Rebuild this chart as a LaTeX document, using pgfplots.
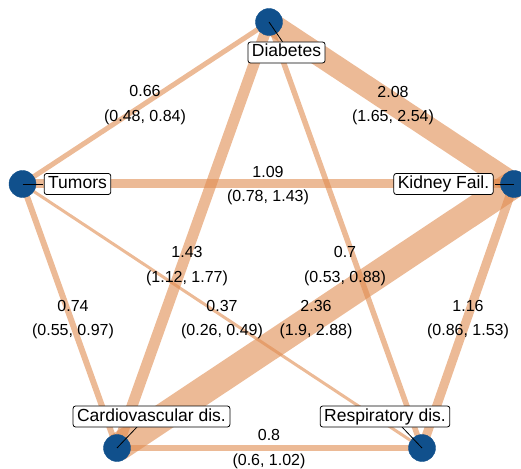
\documentclass[border=0pt]{standalone}
\usepackage{pgfplots}
\pgfplotsset{compat=1.18}
\usepackage{fontspec}
\setmainfont{Liberation Sans}
\definecolor{edgec}{RGB}{224,140,80}
\definecolor{nodeblue}{RGB}{16,80,140}
\tikzset{
  elabel/.style={align=center, font=\fontsize{16}{24.5}\selectfont, yshift=-2.5pt},
  nlabel/.style={draw=black, line width=0.8pt, fill=white, rounded corners=2.5pt,
    inner xsep=4pt, inner ysep=2pt, text height=13pt, text depth=4pt,
    font=\fontsize{17.5}{21}\selectfont},
}
\begin{document}
\begin{tikzpicture}
\begin{axis}[
  width=521pt, height=468pt, scale only axis,
  xmin=0, xmax=521, ymin=0, ymax=468,
  hide axis, clip=true, clip marker paths=true,
  every axis plot/.append style={line cap=butt},
]
% edges: Diabetes (269,446), Tumors (22.5,284), Kidney (514,284), Cardio (117,20), Resp (422,20)
\addplot[edgec, opacity=0.6, line width=5pt] coordinates {(269,446) (22.5,284)};    % 0.66
\addplot[edgec, opacity=0.6, line width=22pt] coordinates {(269,446) (514,284)};    % 2.08
\addplot[edgec, opacity=0.6, line width=9pt] coordinates {(22.5,284) (514,284)};    % 1.09
\addplot[edgec, opacity=0.6, line width=11pt] coordinates {(269,446) (117,20)};     % 1.43
\addplot[edgec, opacity=0.6, line width=5.5pt] coordinates {(269,446) (422,20)};    % 0.7
\addplot[edgec, opacity=0.6, line width=6pt] coordinates {(22.5,284) (117,20)};     % 0.74
\addplot[edgec, opacity=0.6, line width=3pt] coordinates {(22.5,284) (422,20)};     % 0.37
\addplot[edgec, opacity=0.6, line width=28pt] coordinates {(117,20) (514,284)};     % 2.36
\addplot[edgec, opacity=0.6, line width=9pt] coordinates {(514,284) (422,20)};      % 1.16
\addplot[edgec, opacity=0.6, line width=6pt] coordinates {(117,20) (422,20)};       % 0.8
% nodes
\addplot[only marks, mark=*, mark size=13.5pt, color=nodeblue] coordinates {
  (269,446) (22.5,284) (514,284) (117,20) (422,20)};
% leader lines
\addplot[black, line width=0.8pt] coordinates {(269,446) (283,425.5)};
\addplot[black, line width=0.8pt] coordinates {(22.5,284) (43,284)};
\addplot[black, line width=0.8pt] coordinates {(514,284) (495,284)};
\addplot[black, line width=0.8pt] coordinates {(117,20) (137,41)};
\addplot[black, line width=0.8pt] coordinates {(422,20) (402,41)};
% node labels
\node[nlabel] at (axis cs:286.5,415.5) {Diabetes};
\node[nlabel] at (axis cs:77.5,284) {Tumors};
\node[nlabel] at (axis cs:443.5,284) {Kidney Fail.};
\node[nlabel] at (axis cs:151.5,51.5) {Cardiovascular dis.};
\node[nlabel] at (axis cs:385,51.5) {Respiratory dis.};
% edge labels
\node[elabel] at (axis cs:145,365.5) {0.66\\(0.48, 0.84)};
\node[elabel] at (axis cs:393,365) {2.08\\(1.65, 2.54)};
\node[elabel] at (axis cs:268,285) {1.09\\(0.78, 1.43)};
\node[elabel] at (axis cs:187,204.5) {1.43\\(1.12, 1.77)};
\node[elabel] at (axis cs:345,204.5) {0.7\\(0.53, 0.88)};
\node[elabel] at (axis cs:73,151) {0.74\\(0.55, 0.97)};
\node[elabel] at (axis cs:222,151) {0.37\\(0.26, 0.49)};
\node[elabel] at (axis cs:316,151) {2.36\\(1.9, 2.88)};
\node[elabel] at (axis cs:468,151) {1.16\\(0.86, 1.53)};
\node[elabel] at (axis cs:269,21.5) {0.8\\(0.6, 1.02)};
\end{axis}
\pgfresetboundingbox
\path (0,0) rectangle (521pt,468pt);
\end{tikzpicture}
\end{document}
